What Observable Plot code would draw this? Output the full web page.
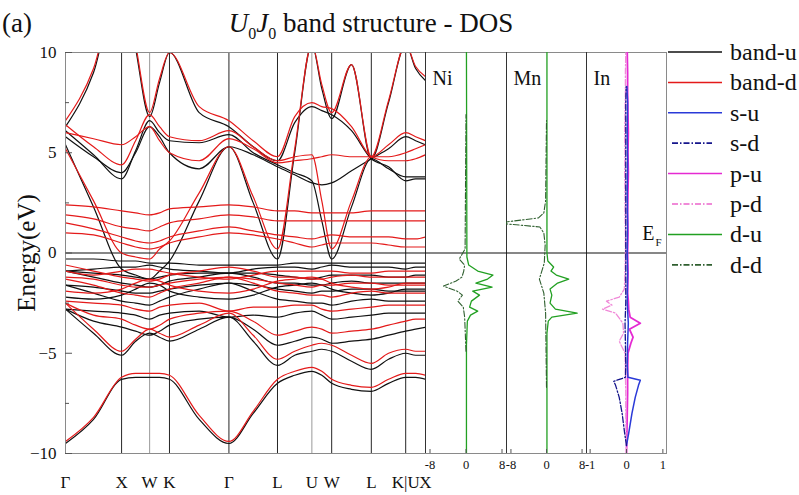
<!DOCTYPE html>
<html>
<head>
<meta charset="utf-8">
<script src="https://cdn.jsdelivr.net/npm/d3@7"></script>
<script src="https://cdn.jsdelivr.net/npm/@observablehq/plot@0.6"></script>
<style>
  body { margin: 0; background: #fff; }
  #root { position: relative; width: 799px; height: 495px; overflow: hidden;
          font-family: "Liberation Serif", "DejaVu Serif", serif; color: #111; }
  .abs { position: absolute; }
  sub { font-size: 16px; line-height: 0; vertical-align: -7px; }
</style>
</head>
<body>
<div id="root"></div>
<script>
// ---------------- DATA ----------------
// k-path (high-symmetry points) and labels
const kLabels  = ["Γ", "X", "W", "K", "Γ", "L", "U", "W", "L", "K|U", "X"];
const kTickPos = [0, 1, 1.5, 1.854, 2.914, 3.780, 4.393, 4.746, 5.453, 6.066, 6.419];
// k positions where band energies were read (high-symmetry points and segment midpoints)
const kSample  = [0, 0.5, 1, 1.25, 1.5, 1.677, 1.854, 2.384, 2.914, 3.347, 3.780,
                  4.087, 4.393, 4.570, 4.746, 5.100, 5.453, 5.760, 6.066, 6.243, 6.419];

// spin-up bands (black), energies in eV at kSample
const up1  = [-9.5,-8.3,-6.3,-6.2,-6.2,-6.2,-6.3,-8.3,-9.5,-8.0,-6.5,-6.1,-5.9,-6.1,-6.5,-6.8,-6.9,-6.5,-6.2,-6.2,-6.3];
const up2  = [-2.8,-4.0,-5.1,-4.4,-4.0,-4.2,-4.4,-3.8,-3.2,-4.4,-5.6,-5.1,-4.9,-4.8,-4.9,-5.4,-5.8,-5.3,-5.0,-5.1,-5.1];
const up3  = [-2.8,-3.4,-3.7,-3.9,-4.1,-3.9,-3.6,-3.3,-3.2,-3.8,-4.6,-4.4,-4.2,-4.3,-4.5,-4.4,-4.3,-4.1,-3.9,-3.8,-3.7];
const up4  = [-2.8,-2.9,-3.0,-3.1,-3.3,-3.1,-3.0,-2.9,-3.2,-3.1,-3.2,-3.0,-2.9,-3.1,-3.3,-3.2,-3.1,-3.0,-3.0,-3.0,-3.0];
const up5  = [-1.6,-2.0,-2.4,-2.5,-2.6,-2.4,-2.2,-1.8,-1.5,-1.9,-2.3,-2.4,-2.5,-2.5,-2.6,-2.4,-2.3,-2.4,-2.4,-2.4,-2.4];
const up6  = [-1.6,-1.7,-1.9,-2.0,-2.0,-1.9,-1.8,-1.6,-1.5,-1.6,-1.8,-1.9,-2.0,-1.9,-1.9,-1.8,-1.8,-1.9,-1.9,-1.9,-1.9];
const up7  = [-0.9,-1.2,-1.5,-1.6,-1.7,-1.6,-1.4,-1.2,-1.0,-1.2,-1.5,-1.5,-1.6,-1.6,-1.5,-1.4,-1.5,-1.5,-1.5,-1.5,-1.5];
const up8  = [-0.9,-1.0,-1.1,-1.2,-1.3,-1.2,-1.1,-1.0,-1.0,-1.0,-1.1,-1.2,-1.3,-1.2,-1.1,-1.1,-1.1,-1.2,-1.2,-1.1,-1.1];
const up9  = [-0.9,-0.8,-0.7,-0.7,-0.6,-0.7,-0.8,-0.9,-1.0,-0.8,-0.7,-0.7,-0.8,-0.7,-0.6,-0.7,-0.7,-0.7,-0.8,-0.7,-0.7];
const up10 = [-0.3,-0.3,-0.4,-0.4,-0.5,-0.5,-0.5,-0.6,-0.6,-0.6,-0.6,-0.5,-0.5,-0.5,-0.5,-0.5,-0.5,-0.5,-0.5,-0.5,-0.5];
const up11 = [5.4,2.3,-0.8,-1.1,-1.3,-0.9,-0.4,2.6,5.3,2.5,-0.3,5.0,10.4,8.2,6.7,9.4,4.7,7.5,10.4,9.2,8.6];
const up12 = [6.1,4.9,3.7,5.1,6.6,6.0,5.6,5.5,5.9,5.0,4.4,4.0,3.6,1.6,-0.3,2.3,4.7,4.2,3.8,3.8,3.8];
const up13 = [6.3,9.0,14.0,10.2,6.8,8.5,10.0,7.0,6.3,5.3,4.6,6.5,7.3,7.1,6.9,6.1,4.7,4.3,3.6,3.7,3.7];
const up14 = [5.8,4.8,4.0,5.0,6.3,5.8,5.0,4.2,5.3,4.9,4.3,3.9,3.5,3.4,3.5,4.1,4.7,5.2,5.8,5.6,5.4];
const up15 = [-2.2,-2.3,-2.1,-1.8,-1.5,-1.6,-1.9,-2.2,-2.3,-2.1,-1.7,-1.6,-1.5,-1.6,-1.8,-2.0,-2.1,-2.0,-1.8,-1.8,-1.8];

// spin-down bands (red)
const dn1  = [-9.4,-8.2,-6.2,-6.0,-6.0,-6.0,-6.1,-8.1,-9.4,-7.9,-6.3,-5.9,-5.7,-5.9,-6.3,-6.6,-6.7,-6.3,-6.0,-6.0,-6.1];
const dn2  = [-2.5,-3.8,-4.9,-4.3,-3.8,-4.0,-4.2,-3.6,-3.0,-4.1,-5.3,-4.9,-4.6,-4.5,-4.6,-5.1,-5.5,-5.0,-4.8,-4.9,-4.9];
const dn3  = [-2.5,-3.1,-3.3,-3.6,-3.8,-3.6,-3.3,-3.0,-2.9,-3.4,-4.1,-3.9,-3.7,-3.8,-4.0,-3.9,-3.8,-3.6,-3.4,-3.3,-3.3];
const dn4  = [-2.4,-2.5,-2.6,-2.8,-2.9,-2.7,-2.6,-2.5,-2.9,-2.7,-2.7,-2.6,-2.6,-2.8,-2.9,-2.8,-2.7,-2.6,-2.6,-2.6,-2.6];
const dn5  = [-1.3,-1.6,-2.0,-2.1,-2.2,-2.0,-1.8,-1.5,-1.2,-1.5,-1.9,-2.0,-2.1,-2.1,-2.2,-2.0,-1.9,-2.0,-2.0,-2.0,-2.0];
const dn6  = [-1.2,-1.3,-1.6,-1.7,-1.7,-1.6,-1.5,-1.3,-1.2,-1.3,-1.5,-1.6,-1.7,-1.6,-1.6,-1.5,-1.5,-1.6,-1.6,-1.6,-1.6];
const dn7  = [-0.6,-0.9,-1.2,-1.3,-1.4,-1.3,-1.1,-0.9,-0.7,-0.9,-1.2,-1.2,-1.3,-1.3,-1.2,-1.1,-1.2,-1.2,-1.2,-1.2,-1.2];
const dn8  = [1.9,1.7,1.3,1.2,1.1,1.3,1.5,1.7,1.9,1.8,1.6,1.6,1.6,1.6,1.6,1.6,1.6,1.6,1.6,1.6,1.6];
const dn9  = [1.5,1.2,0.8,0.6,0.5,0.6,0.8,1.1,1.3,1.1,0.9,0.8,0.7,0.8,0.9,0.8,0.8,0.8,0.7,0.7,0.8];
const dn10 = [1.0,0.9,0.5,0.3,0.2,0.3,0.5,0.8,1.0,0.9,0.7,0.5,0.3,0.4,0.5,0.5,0.5,0.4,0.3,0.3,0.3];
const dn11 = [5.2,2.6,0.0,-0.2,-0.3,0.2,0.6,3.0,5.3,2.8,0.2,5.2,10.4,8.4,7.0,9.4,4.8,7.6,10.4,9.3,8.8];
const dn12 = [6.4,5.3,4.4,5.6,6.9,6.3,5.8,5.6,6.1,5.3,4.6,4.8,4.9,2.6,0.2,2.6,4.8,4.8,5.0,5.2,5.4];
const dn13 = [6.6,9.2,14.0,10.4,7.0,8.7,10.0,7.3,6.6,5.6,4.8,6.8,7.5,7.3,7.2,6.3,4.8,4.6,4.6,4.7,4.9];
const dn14 = [6.0,5.7,5.4,5.8,6.3,5.6,5.0,4.6,5.7,5.2,4.5,4.6,4.7,4.8,4.9,4.8,4.8,5.4,6.0,5.8,5.6];
const dn15 = [2.4,2.3,2.1,2.0,1.9,2.0,2.2,2.3,2.4,2.3,2.1,2.1,2.0,2.0,2.0,2.0,2.1,2.1,2.1,2.1,2.1];
const dn16 = [-1.9,-2.0,-1.8,-1.5,-1.3,-1.4,-1.6,-1.9,-2.0,-1.8,-1.4,-1.3,-1.2,-1.3,-1.5,-1.7,-1.8,-1.7,-1.5,-1.5,-1.5];
const dn17 = [-0.9,-1.1,-0.9,-0.8,-0.8,-0.9,-1.0,-1.2,-1.3,-1.1,-0.9,-0.9,-0.9,-0.9,-0.9,-1.0,-1.0,-0.9,-0.9,-0.9,-0.9];

// DOS: energies (eV) and values
const niDuE = [-10,-4.6,-3.4,-3.1,-2.9,-2.7,-2.4,-2.1,-1.9,-1.7,-1.5,-1.3,-1.1,-0.9,-0.6,-0.2,10];
const niDuV = [0.1,0.1,0.3,1.0,2.6,0.8,1.2,3.0,1.5,5.8,2.2,4.8,6.0,2.6,0.6,0.2,0.1];
const niDdE = [-4.9,-3.2,-2.7,-2.4,-2.1,-1.9,-1.65,-1.4,-1.2,-0.9,-0.6,-0.3,0.2,6.9];
const niDdV = [0,-0.3,-0.6,-1.8,-0.8,-2.0,-5.0,-2.2,-0.9,-0.5,-0.3,-1.5,-0.2,0];

const mnDuE = [-10,-4.0,-3.4,-3.2,-3.0,-2.8,-2.5,-2.1,-1.8,-1.5,-1.3,-1.1,-0.9,-0.7,-0.4,0,10];
const mnDuV = [0.1,0.1,0.4,1.2,6.9,2.0,0.8,1.2,0.8,2.5,5.0,2.2,1.0,1.6,0.3,0.1,0.1];
const mnDdE = [-6.7,-3.0,-2.0,-1.3,-0.5,0.4,1.0,1.3,1.45,1.55,1.75,2.0,2.6,6.6];
const mnDdV = [0,-0.2,-0.6,-1.6,-0.5,-0.3,-0.6,-1.5,-9,-9,-1.8,-0.6,-0.2,0];

const inSuE = [-9.6,-9.0,-8.0,-7.2,-6.6,-6.35,-6.2,-5.6,-4.5,-3.5,-2.5,-1.0,0,1.5,3,4.5,6,7.5,8.3];
const inSuV = [0,0.06,0.15,0.24,0.33,0.38,0.04,0.02,0.03,0.05,0.02,0.03,0.02,0.03,0.02,0.03,0.02,0.03,0.01];
const inSdE = [-9.6,-9.0,-8.0,-7.2,-6.6,-6.4,-6.2,-5.6,-4.5,-3.5,-2.5,-1.0,0,1.5,3,4.5,6,7.5,8.3];
const inSdV = [0,-0.05,-0.12,-0.2,-0.3,-0.35,-0.03,-0.02,-0.03,-0.04,-0.02,-0.02,-0.02,-0.02,-0.02,-0.02,-0.02,-0.02,-0.01];
const inPuE = [-10,-9,-8,-7,-6,-5,-4.5,-4.2,-3.8,-3.5,-3.2,-2.8,-2.4,-2,-1,0,1,2,3,4,5,6,7,8,9,10];
const inPuV = [0,0.01,0.02,0.03,0.03,0.04,0.12,0.18,0.08,0.38,0.1,0.06,0.05,0.03,0.04,0.03,0.04,0.03,0.04,0.05,0.04,0.05,0.04,0.03,0.03,0.02];
const inPdE = [-10,-9,-8,-7,-6,-5,-4.4,-4.0,-3.5,-3.0,-2.8,-2.6,-2.4,-2.2,-1.8,-1,0,1,2,3,4,5,6,7,8,9,10];
const inPdV = [0,-0.01,-0.02,-0.02,-0.03,-0.04,-0.2,-0.08,-0.1,-0.3,-0.66,-0.4,-0.55,-0.2,-0.06,-0.04,-0.03,-0.03,-0.04,-0.04,-0.05,-0.04,-0.05,-0.04,-0.03,-0.03,-0.02];

const yTicksMajor = [-10, -5, 0, 5, 10];
const yTicksMinor = [-7.5, -2.5, 2.5, 7.5];
const dosTicksWide = [-8, 0, 8];
const dosTicksNarrow = [-1, 0, 1];
const legendLabels = ["band-u", "band-d", "s-u", "s-d", "p-u", "p-d", "d-u", "d-d"];

// ---------------- STYLE / LAYOUT ----------------
const FONT = '"Liberation Serif", "DejaVu Serif", serif';
const H = 495, MT = 52, MB = 42;
const COL = {
  up: "#111111", dn: "#e41a1a",
  su: "#2a3ad8", sd: "#16168c", pu: "#e52ad2", pd: "#f08ad8",
  du: "#22a022", dd: "#2f5f2f"
};
const DASH = "6,2,1.5,2";
const legendStyle = [
  {c: COL.up, dash: null}, {c: COL.dn, dash: null}, {c: COL.su, dash: null}, {c: COL.sd, dash: DASH},
  {c: COL.pu, dash: null}, {c: COL.pd, dash: DASH}, {c: COL.du, dash: null}, {c: COL.dd, dash: DASH}
];
const svgStyle = {background: "transparent", overflow: "visible", fontFamily: FONT, color: "#111"};

const root = document.getElementById("root");
function place(node, left, top) {
  const w = document.createElement("div");
  w.className = "abs";
  w.style.left = left + "px";
  w.style.top = top + "px";
  w.appendChild(node);
  root.appendChild(w);
  return w;
}

// ---------------- BAND STRUCTURE ----------------
const bandsUp = [up1, up2, up3, up4, up5, up6, up7, up8, up9, up10, up11, up12, up13, up14, up15];
const bandsDn = [dn1, dn2, dn3, dn4, dn5, dn6, dn7, dn8, dn9, dn10, dn11, dn12, dn13, dn14, dn15, dn16, dn17];
const toRows = (bands) => bands.flatMap((b, bi) => b.map((e, j) => ({k: kSample[j], e, band: bi})));
const labelMap = new Map(kTickPos.map((p, i) => [p, kLabels[i]]));
const lightIdx = new Set([2, 6]);
const BW = 425, bandFrameW = BW - 65;

const bandPlot = Plot.plot({
  width: BW, height: H,
  marginLeft: 65, marginRight: 0, marginTop: MT, marginBottom: MB,
  x: {domain: [kTickPos[0], kTickPos[kTickPos.length - 1]], label: null},
  y: {domain: [-10, 10], label: null},
  style: svgStyle,
  marks: [
    Plot.ruleX(kTickPos.filter((d, i) => i > 0 && !lightIdx.has(i)), {stroke: "#262626", strokeWidth: 1}),
    Plot.ruleX(kTickPos.filter((d, i) => lightIdx.has(i)), {stroke: "#9a9a9a", strokeWidth: 1}),
    Plot.ruleY([0], {stroke: "#111", strokeWidth: 1.2}),
    Plot.line(toRows(bandsUp), {x: "k", y: "e", z: "band", stroke: COL.up, strokeWidth: 1.2, curve: "monotone-x", clip: true}),
    Plot.line(toRows(bandsDn), {x: "k", y: "e", z: "band", stroke: COL.dn, strokeWidth: 1.2, curve: "monotone-x", clip: true}),
    Plot.frame({stroke: "#8a8a8a"}),
    Plot.tickY(yTicksMajor, {y: d => d, insetRight: bandFrameW - 7, stroke: "#555"}),
    Plot.tickY(yTicksMinor, {y: d => d, insetRight: bandFrameW - 4, stroke: "#555"}),
    Plot.axisY({ticks: yTicksMajor, tickSize: 0, tickPadding: 9, fontSize: 17, label: null}),
    Plot.axisX({ticks: kTickPos, tickSize: 0, tickPadding: 22, fontSize: 17, label: null,
                tickFormat: d => labelMap.get(d)})
  ]
});
place(bandPlot, 0, 0);

// ---------------- DOS PANELS ----------------
function curve(E, V, color, dash, w) {
  return Plot.line(E.map((e, i) => ({e, v: V[i]})),
    {x: "v", y: "e", stroke: color, strokeWidth: w || 1.2, strokeDasharray: dash || null, clip: true});
}
function dosPanel({name, domain, ticks, width, curves, extra = []}) {
  const frameH = H - MT - MB;
  return Plot.plot({
    width, height: H, marginLeft: 0, marginRight: 0, marginTop: MT, marginBottom: MB,
    x: {domain, label: null}, y: {domain: [-10, 10], axis: null, label: null},
    style: svgStyle,
    marks: [
      Plot.frame({stroke: "#8a8a8a"}),
      Plot.ruleX([domain[0]], {stroke: "#333", strokeWidth: 1}),
      Plot.ruleY([0], {stroke: "#111", strokeWidth: 1.2}),
      ...curves,
      Plot.tickX(ticks, {x: d => d, insetTop: frameH - 4, stroke: "#555"}),
      Plot.axisX({ticks, tickSize: 0, tickPadding: 7, fontSize: 12.5, label: null, tickFormat: d => String(d)}),
      Plot.text([name], {frameAnchor: "top-left", text: d => d, dx: 7, dy: 18, fontSize: 20, textAnchor: "start"}),
      ...extra
    ]
  });
}

place(dosPanel({
  name: "Ni", domain: [-9, 9], ticks: dosTicksWide, width: 81,
  curves: [curve(niDuE, niDuV, COL.du, null, 1.3), curve(niDdE, niDdV, COL.dd, DASH, 1.1)]
}), 425, 0);

place(dosPanel({
  name: "Mn", domain: [-9, 9], ticks: dosTicksWide, width: 80,
  curves: [curve(mnDuE, mnDuV, COL.du, null, 1.3), curve(mnDdE, mnDdV, COL.dd, DASH, 1.1)]
}), 506, 0);

place(dosPanel({
  name: "In", domain: [-1.1, 1.1], ticks: dosTicksNarrow, width: 80,
  curves: [
    curve(inPuE, inPuV, COL.pu, null, 1.8),
    curve(inPdE, inPdV, COL.pd, DASH, 1.3),
    curve(inSuE, inSuV, COL.su, null, 1.5),
    curve(inSdE, inSdV, COL.sd, DASH, 1.3)
  ],
  extra: [
    Plot.text([0], {y: d => d, text: () => "E", frameAnchor: "right", textAnchor: "end", dx: -12, dy: -19, fontSize: 20}),
    Plot.text([0], {y: d => d, text: () => "F", frameAnchor: "right", textAnchor: "end", dx: -5, dy: -11, fontSize: 11})
  ]
}), 586, 0);

// ---------------- LEGEND ----------------
const leg = d3.create("svg").attr("width", 133).attr("height", 300)
  .style("overflow", "visible").style("font-family", FONT);
legendLabels.forEach((lab, i) => {
  const y = 52 + i * 30.4;
  const st = legendStyle[i];
  leg.append("line")
    .attr("x1", st.dash ? 6 : 2).attr("x2", st.dash ? 46 : 56)
    .attr("y1", y).attr("y2", y)
    .attr("stroke", st.c).attr("stroke-width", st.dash ? 1.8 : 1.5)
    .attr("stroke-dasharray", st.dash);
  leg.append("text").attr("x", 64).attr("y", y).attr("dy", "0.33em")
    .attr("font-size", 24).attr("fill", "#111").text(lab);
});
place(leg.node(), 666, 0);

// ---------------- TITLES ----------------
const title = document.createElement("div");
title.className = "abs";
title.style.cssText = "left:0;top:10px;width:742px;text-align:center;font-size:27px;line-height:27px;white-space:nowrap;";
title.innerHTML = "<i>U</i><sub>0</sub><i>J</i><sub>0</sub> band structure - DOS";
root.appendChild(title);

const tag = document.createElement("div");
tag.className = "abs";
tag.style.cssText = "left:2px;top:10px;font-size:27px;line-height:27px;";
tag.textContent = "(a)";
root.appendChild(tag);

const ylab = document.createElement("div");
ylab.className = "abs";
ylab.style.cssText = "left:-73px;top:240px;width:200px;text-align:center;font-size:25px;line-height:26px;transform:rotate(-90deg);white-space:nowrap;";
ylab.textContent = "Energy(eV)";
root.appendChild(ylab);
</script>
</body>
</html>
